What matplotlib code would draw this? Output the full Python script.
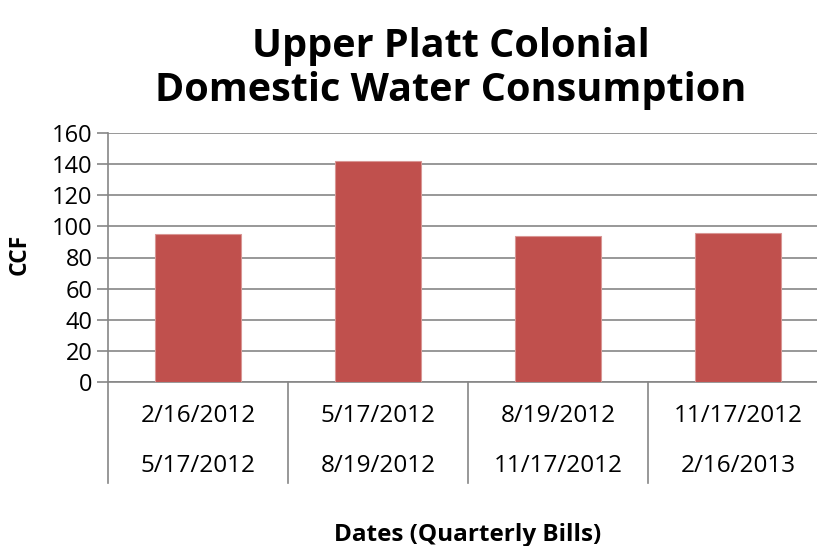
import numpy as np
import matplotlib.pyplot as plt
import matplotlib.transforms as mtransforms

# quarterly bill periods (start / end) and consumption in CCF
starts = ['2/16/2012', '5/17/2012', '8/19/2012', '11/17/2012']
ends = ['5/17/2012', '8/19/2012', '11/17/2012', '2/16/2013']
ccf = [95, 142, 94, 96]
yticks = [0, 20, 40, 60, 80, 100, 120, 140, 160]

plt.rcParams['font.family'] = ['Open Sans', 'DejaVu Sans']

W, H = 817, 546
fig = plt.figure(figsize=(W / 100, H / 100), dpi=100)

# plot area in pixels: x 108..828 (runs off the right edge), y 133..382
ax = fig.add_axes([108 / W, (H - 382) / H, 720 / W, 249 / H])

gray = '#868686'
x = np.arange(len(ccf))
ax.bar(x, ccf, width=0.48, color='#C0504D', edgecolor='#D99694', linewidth=0.8, zorder=3)

ax.set_xlim(-0.5, len(ccf) - 0.5)
ax.set_ylim(0, 160)
ax.set_yticks(yticks)
ax.set_yticklabels([str(v) for v in yticks], fontsize=17)
ax.yaxis.grid(True, color=gray, linewidth=1.2, zorder=0)
ax.tick_params(axis='y', direction='out', length=8, width=1.2, color=gray, pad=3)
ax.set_xticks([])

for s in ['top', 'right']:
    ax.spines[s].set_visible(False)
for s in ['left', 'bottom']:
    ax.spines[s].set_color(gray)
    ax.spines[s].set_linewidth(1.2)

# two-level category labels with separators below the axis
trans = mtransforms.blended_transform_factory(ax.transData, ax.transAxes)
sep_bottom = -(483 - 382) / 249
for i in range(len(ccf) + 1):
    ax.plot([i - 0.5, i - 0.5], [0, sep_bottom], color=gray, linewidth=1.2,
            transform=trans, clip_on=False)
for i in range(len(ccf)):
    ax.text(i, -(416 - 382) / 249, starts[i], transform=trans, ha='center',
            va='center', fontsize=17.5)
    ax.text(i, -(466 - 382) / 249, ends[i], transform=trans, ha='center',
            va='center', fontsize=17.5)

fig.text(20 / W, 1 - 254 / H, 'CCF', ha='center', va='center', rotation=90,
         fontsize=16.5, fontweight='bold')
fig.text(468 / W, 1 - 535 / H, 'Dates (Quarterly Bills)', ha='center', va='center',
         fontsize=17.5, fontweight='bold')

fig.text(451 / W, 1 - 46 / H, 'Upper Platt Colonial', ha='center', va='center',
         fontsize=28.5, fontweight='bold')
fig.text(451 / W, 1 - 90 / H, 'Domestic Water Consumption', ha='center', va='center',
         fontsize=28.5, fontweight='bold')

fig.savefig('out.png', dpi=100)
